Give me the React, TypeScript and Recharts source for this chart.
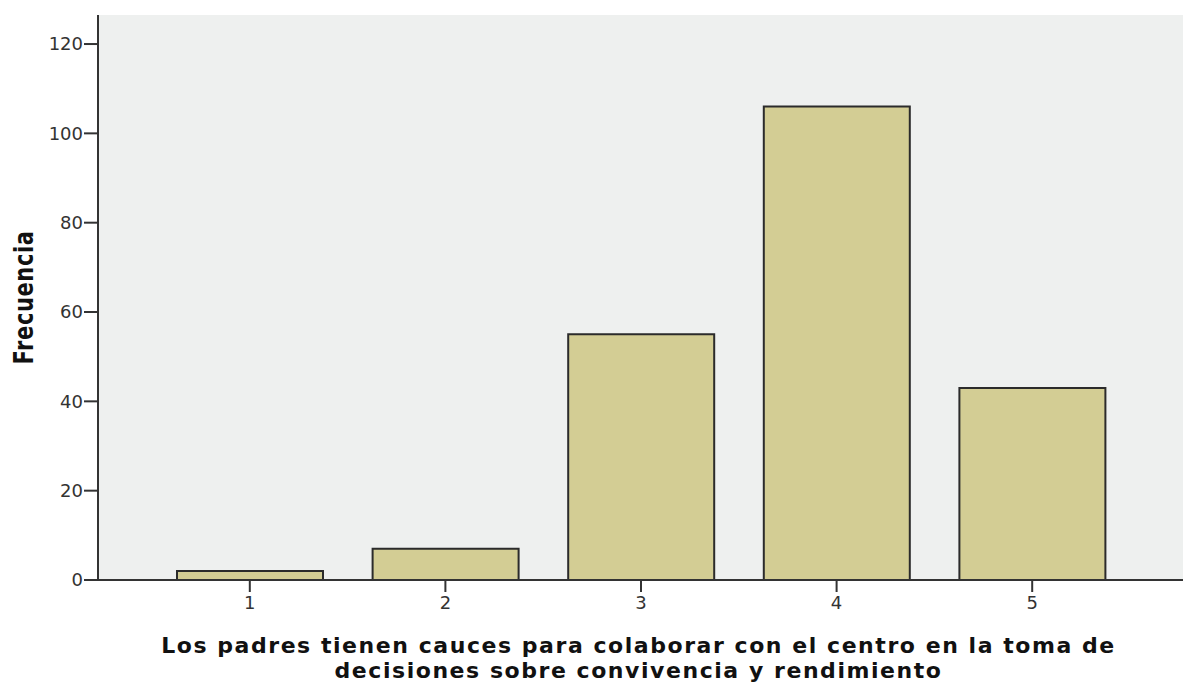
import React from 'react';
import { BarChart, Bar, XAxis, YAxis, CartesianGrid } from 'recharts';

const categories = ['1', '2', '3', '4', '5'];
const frequencies = [2, 7, 55, 106, 43];
const yTicks = [0, 20, 40, 60, 80, 100, 120];
const xTitleLines = [
  'Los padres tienen cauces para colaborar con el centro en la toma de',
  'decisiones sobre convivencia y rendimiento',
];
const yTitle = 'Frecuencia';

const data = categories.map((c, i) => ({ category: c, frecuencia: frequencies[i] }));

const TITLE_FONT = "'DejaVu Sans', Verdana, sans-serif";
const TICK_FONT = "'DejaVu Sans', Verdana, sans-serif";

const XTitle = (props: any) => {
  const { viewBox } = props;
  const cx = viewBox.x + viewBox.width / 2 - 2;
  const top = viewBox.y;
  return (
    <g>
      {xTitleLines.map((line, i) => (
        <text
          key={i}
          x={cx}
          y={top + 73 + i * 25}
          textAnchor="middle"
          fontFamily={TITLE_FONT}
          fontWeight="bold"
          fontSize={22}
          letterSpacing={1.55}
          fill="#111"
        >
          {line}
        </text>
      ))}
    </g>
  );
};

const YTitle = (props: any) => {
  const { viewBox } = props;
  const cy = viewBox.y + viewBox.height / 2;
  return (
    <text
      transform={`translate(33, ${cy}) rotate(-90) scale(1, 1.3)`}
      x={0}
      y={0}
      textAnchor="middle"
      fontFamily={TITLE_FONT}
      fontWeight="bold"
      fontSize={21}
      letterSpacing={0.6}
      fill="#111"
    >
      {yTitle}
    </text>
  );
};

const tickStyle = { fontFamily: TICK_FONT, fontSize: 18, fill: '#333' };

export default function App() {
  return (
    <div style={{ position: 'absolute', left: 0, top: 0, width: 1184, height: 684, background: '#fff' }}>
      <BarChart
        width={1184}
        height={684}
        data={data}
        margin={{ top: 15, right: 1, left: 0, bottom: 0 }}
      >
        <CartesianGrid horizontal={false} vertical={false} fill="#eef0ef" stroke="none" />
        <XAxis
          dataKey="category"
          padding={{ left: 54, right: 53 }}
          height={104}
          interval={0}
          tickSize={12}
          tickMargin={4}
          tick={tickStyle}
          axisLine={{ stroke: '#333', strokeWidth: 2 }}
          tickLine={{ stroke: '#333', strokeWidth: 2 }}
          label={<XTitle />}
        />
        <XAxis
          xAxisId="top"
          dataKey="category"
          orientation="top"
          height={0}
          tick={false}
          tickLine={false}
          axisLine={{ stroke: '#444', strokeWidth: 2 }}
        />
        <YAxis
          width={98}
          domain={[0, 126.5]}
          ticks={yTicks}
          interval={0}
          tickSize={14}
          tickMargin={1}
          tick={tickStyle}
          axisLine={{ stroke: '#333', strokeWidth: 2 }}
          tickLine={{ stroke: '#333', strokeWidth: 2 }}
          label={<YTitle />}
        />
        <YAxis
          yAxisId="right"
          orientation="right"
          width={0}
          tick={false}
          tickLine={false}
          axisLine={{ stroke: '#aaa', strokeWidth: 1 }}
        />
        <Bar
          dataKey="frecuencia"
          fill="#d3cd94"
          stroke="#2b2b2b"
          strokeWidth={2}
          barSize={146}
          isAnimationActive={false}
        />
      </BarChart>
    </div>
  );
}
